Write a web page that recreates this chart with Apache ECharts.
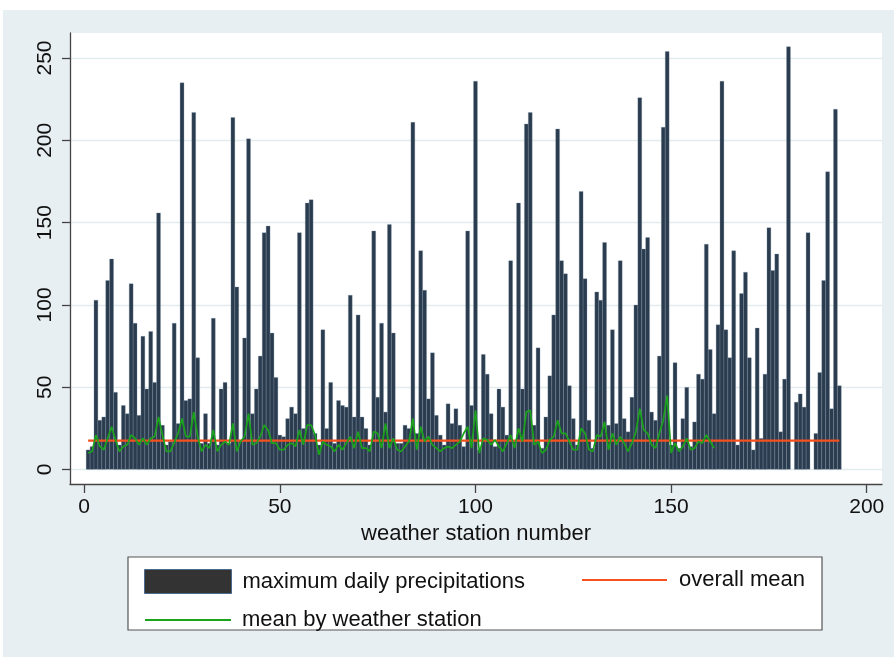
<!DOCTYPE html>
<html><head><meta charset="utf-8">
<script src="https://cdn.jsdelivr.net/npm/echarts@6/dist/echarts.min.js"></script>
<style>html,body{margin:0;padding:0;background:#fff}#c{width:894px;height:657px}</style>
</head><body><div id="c"></div>
<script>
const xTicks = [0, 50, 100, 150, 200];
const yTicks = [0, 50, 100, 150, 200, 250];
const seriesNames = ['maximum daily precipitations', 'overall mean', 'mean by weather station'];
const xTitle = 'weather station number';

// maximum daily precipitation per weather station (stations 1..193), null = missing
const maxPrecip = [
  12, 14, 103, 30, 32, 115, 128, 47, 15, 39,
  34, 113, 89, 33, 81, 49, 84, 53, 156, 27,
  15, 17, 89, 28, 235, 42, 43, 217, 68, 16,
  34, 16, 92, 15, 49, 53, 16, 214, 111, 18,
  80, 201, 34, 49, 69, 144, 148, 83, 56, 21,
  20, 31, 38, 34, 144, 25, 162, 164, 22, 15,
  85, 25, 53, 16, 42, 39, 38, 106, 32, 94,
  32, 25, 15, 145, 44, 89, 35, 149, 83, 16,
  16, 27, 25, 211, 22, 133, 109, 43, 71, 33,
  21, 15, 40, 28, 37, 27, 14, 145, 39, 236,
  12, 70, 58, 34, 14, 49, 38, 21, 127, 17,
  162, 49, 210, 217, 27, 74, 13, 32, 57, 94,
  207, 127, 119, 51, 31, 15, 169, 116, 30, 13,
  108, 103, 138, 27, 85, 28, 127, 31, 23, 44,
  100, 226, 134, 141, 35, 30, 69, 208, 254, 15,
  65, 13, 31, 50, 14, 29, 58, 55, 137, 73,
  34, 88, 236, 85, 68, 133, 15, 107, 120, 68,
  12, 86, 19, 58, 147, 121, 131, 23, 55, 257,
  null, 41, 46, 38, 144, null, 22, 59, 115, 181,
  37, 219, 51
];

// mean precipitation by weather station (stations 1..161)
const stationMean = [
  10, 11, 21, 14, 12, 19, 26, 18, 11, 14,
  15, 21, 19, 15, 19, 15, 19, 20, 32, 21,
  11, 11, 16, 22, 31, 20, 20, 35, 20, 11,
  15, 13, 24, 11, 15, 17, 15, 28, 11, 17,
  20, 34, 15, 16, 20, 27, 24, 16, 16, 12,
  12, 15, 16, 14, 24, 15, 27, 27, 21, 9,
  17, 15, 14, 11, 15, 12, 16, 20, 13, 23,
  13, 13, 11, 23, 22, 13, 28, 13, 19, 12,
  11, 14, 17, 31, 12, 26, 17, 20, 15, 13,
  11, 13, 14, 13, 15, 17, 22, 26, 13, 36,
  10, 19, 18, 15, 18, 14, 11, 16, 21, 13,
  25, 17, 35, 36, 15, 17, 10, 12, 18, 20,
  30, 22, 22, 17, 12, 12, 25, 22, 12, 11,
  21, 20, 29, 12, 22, 15, 20, 16, 11, 16,
  23, 37, 24, 22, 15, 13, 22, 30, 45, 10,
  16, 11, 14, 19, 12, 13, 17, 16, 21, 17,
  13
];

const overallMean = 17.6;

const barData = [];
maxPrecip.forEach((v, i) => { if (v !== null) barData.push([i + 1, v]); });
const meanData = stationMean.map((v, i) => [i + 1, v]);
const overallData = [[1, overallMean], [maxPrecip.length, overallMean]];

const FONT = "'Liberation Sans', Arial, Helvetica, sans-serif";
const RED = '#f4511e', GREEN = '#1ca31c';
const chart = echarts.init(document.getElementById('c'), null, { renderer: 'canvas' });

chart.setOption({
  animation: false,
  backgroundColor: '#e8eff2',
  textStyle: { fontFamily: FONT },
  graphic: [
    { type: 'rect', shape: { x: 0, y: 0, width: 894, height: 10 }, style: { fill: '#ffffff' }, silent: true },
    { type: 'rect', shape: { x: 0, y: 0, width: 3, height: 657 }, style: { fill: '#ffffff' }, silent: true },
    { type: 'rect', shape: { x: 128, y: 557, width: 694, height: 73 }, style: { fill: '#ffffff', stroke: '#555555', lineWidth: 1.2 }, silent: true }
  ],
  grid: {
    left: 70, top: 33, width: 812, height: 451,
    show: true, backgroundColor: '#ffffff', borderWidth: 0
  },
  xAxis: {
    type: 'value', min: -3.63, max: 203.9,
    name: xTitle, nameLocation: 'middle', nameGap: 38,
    nameTextStyle: { fontSize: 22, color: '#111', fontFamily: FONT },
    axisLine: { show: true, onZero: false, lineStyle: { color: '#444', width: 1.3 } },
    axisTick: { show: true, customValues: xTicks, length: 9, lineStyle: { color: '#444', width: 1.3 } },
    axisLabel: { customValues: xTicks, fontSize: 21, color: '#111', margin: 13, fontFamily: FONT },
    splitLine: { show: false }
  },
  yAxis: {
    type: 'value', min: -8.8, max: 265.2,
    axisLine: { show: true, onZero: false, lineStyle: { color: '#444', width: 1.3 } },
    axisTick: { show: true, customValues: yTicks, length: 8, lineStyle: { color: '#444', width: 1.3 } },
    axisLabel: { customValues: yTicks, fontSize: 21, color: '#111', rotate: 90, margin: 14, fontFamily: FONT },
    splitLine: { show: true, lineStyle: { color: '#e3eced', width: 1.3 } }
  },
  legend: [
    {
      data: [seriesNames[0]], left: 139, top: 564, itemWidth: 87, itemHeight: 24, icon: 'rect',
      itemStyle: { color: '#333333', borderColor: '#4b6a8c', borderWidth: 1 },
      textStyle: { fontSize: 22, color: '#111', fontFamily: FONT, padding: [0, 0, 0, 6] }
    },
    {
      data: [{ name: seriesNames[1], icon: 'rect' }], left: 577, top: 564, itemWidth: 85, itemHeight: 2,
      itemStyle: { color: RED, borderWidth: 0 },
      textStyle: { fontSize: 22, color: '#111', fontFamily: FONT, padding: [0, 0, 0, 7] }
    },
    {
      data: [{ name: seriesNames[2], icon: 'rect' }], left: 140, top: 604, itemWidth: 86, itemHeight: 2,
      itemStyle: { color: GREEN, borderWidth: 0 },
      textStyle: { fontSize: 22, color: '#111', fontFamily: FONT, padding: [0, 0, 0, 6] }
    }
  ],
  series: [
    {
      name: seriesNames[0], type: 'bar', data: barData, barWidth: 4.2, barMaxWidth: 10,
      itemStyle: { color: '#2b3c4f', borderColor: '#7f95aa', borderWidth: 0.3 }
    },
    {
      name: seriesNames[1], type: 'line', data: overallData, symbol: 'none',
      lineStyle: { color: RED, width: 2.2 }, itemStyle: { color: RED }
    },
    {
      name: seriesNames[2], type: 'line', data: meanData, symbol: 'none',
      lineStyle: { color: GREEN, width: 1.7 }, itemStyle: { color: GREEN }
    }
  ]
});
</script>
</body></html>
